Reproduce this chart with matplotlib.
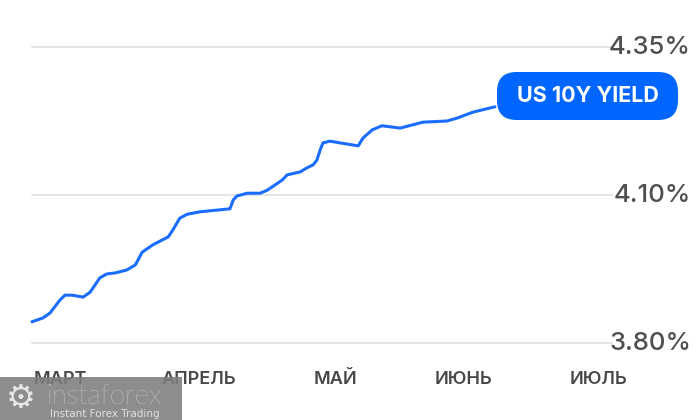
from matplotlib import pyplot as plt
from matplotlib.patches import FancyBboxPatch, Rectangle
import numpy as np

# days since start of March, 10Y yield in %
days = [0, 2.4, 3.9, 6.0, 7.1, 8.6, 11.0, 12.5, 14.6, 16.1, 17.9, 20.4, 22.2, 22.8,
        23.7, 26.0, 29.3, 30.3, 31.8, 33.4, 36.2, 42.6, 43.3, 44.1, 46.3, 49.1, 50.6,
        53.8, 54.9, 57.7, 59.2, 60.5, 61.3, 62.0, 62.6, 64.1, 66.3, 70.2, 71.2, 73.2,
        75.3, 79.2, 84.1, 89.3, 91.5, 94.9, 99.6]
yields = [3.843, 3.851, 3.861, 3.887, 3.897, 3.897, 3.893, 3.903, 3.932, 3.940, 3.942,
          3.948, 3.958, 3.968, 3.984, 3.999, 4.015, 4.029, 4.053, 4.061, 4.066, 4.072,
          4.090, 4.098, 4.103, 4.103, 4.108, 4.125, 4.134, 4.139, 4.146, 4.151, 4.159,
          4.176, 4.188, 4.191, 4.188, 4.183, 4.196, 4.210, 4.217, 4.213, 4.223, 4.225,
          4.230, 4.240, 4.249]

month_pos = [6.0, 35.9, 65.2, 92.8, 122.0]
month_names = ['МАРТ', 'АПРЕЛЬ', 'МАЙ', 'ИЮНЬ', 'ИЮЛЬ']
levels = [3.80, 4.10, 4.35]
level_labels = ['3.80%', '4.10%', '4.35%']
series_name = 'US 10Y YIELD'

# the levels are drawn evenly spaced
def fwd(v):
    v = np.asarray(v, dtype=float)
    return np.where(v <= 4.10, (v - 3.80) / 0.30, 1 + (v - 4.10) / 0.25)

def inv(t):
    t = np.asarray(t, dtype=float)
    return np.where(t <= 1, 3.80 + t * 0.30, 4.10 + (t - 1) * 0.25)

W, H = 700, 420
fig = plt.figure(figsize=(7, 4.2), dpi=100)
ax = fig.add_axes([32 / W, (H - 343) / H, 580 / W, 296 / H])
ax.set_yscale('function', functions=(fwd, inv))
ax.set_ylim(3.80, 4.35)
ax.set_xlim(0, 124.8)
for s in ax.spines.values():
    s.set_visible(False)

for lv in levels:
    ax.axhline(lv, color='#dedede', lw=1.1, zorder=1, clip_on=False)

ax.plot(days, yields, color='#1a6dff', lw=2.2, solid_joinstyle='round',
        solid_capstyle='round', zorder=3, clip_on=False)

ax.set_yticks([])
ax.yaxis.set_minor_locator(plt.NullLocator())
ax.set_xticks(month_pos)
ax.set_xticklabels(month_names, fontsize=13, color='#484848', family='Inter', fontweight='semibold')
ax.tick_params(axis='x', length=0, pad=20)

for lv, lab in zip(levels, level_labels):
    ax.text((691 - 32) / 580, lv, lab, transform=ax.get_yaxis_transform(),
            ha='right', va='center', fontsize=18.5, color='#4f4f4f', family='Inter',
            fontweight='medium', zorder=4)

# series label box
bx0, by0, bx1, by1 = 497, 72, 678, 120
fig.patches.append(FancyBboxPatch((bx0 / W, (H - by1) / H), (bx1 - bx0) / W, (by1 - by0) / H,
                                  boxstyle='round,pad=0,rounding_size=0.028',
                                  transform=fig.transFigure, fc='#0066ff', ec='none',
                                  mutation_aspect=W / H, zorder=5))
fig.text((bx0 + bx1) / 2 / W, (H - (by0 + by1) / 2) / H, series_name, ha='center', va='center',
         fontsize=15.5, color='white', fontweight='bold', family='Inter', zorder=6)

# watermark
fig.patches.append(Rectangle((0, 0), 182 / W, 43 / H, transform=fig.transFigure,
                             fc='#7d7d7d', ec='none', alpha=0.88, zorder=7))
fig.text(21 / W, 22 / H, '\u2699', ha='center', va='center', fontsize=24, color='#e6e6e6',
         family='DejaVu Sans', zorder=8)
fig.text(47 / W, 16 / H, 'instaforex', ha='left', va='baseline', fontsize=20,
         color='#e8e8e8', family='Lato', fontweight='light', zorder=8)
fig.text(50 / W, 6 / H, 'Instant Forex Trading', ha='left', va='center', fontsize=7.5,
         color='#e0e0e0', family='DejaVu Sans', zorder=8)

fig.savefig('out.png', dpi=100)
